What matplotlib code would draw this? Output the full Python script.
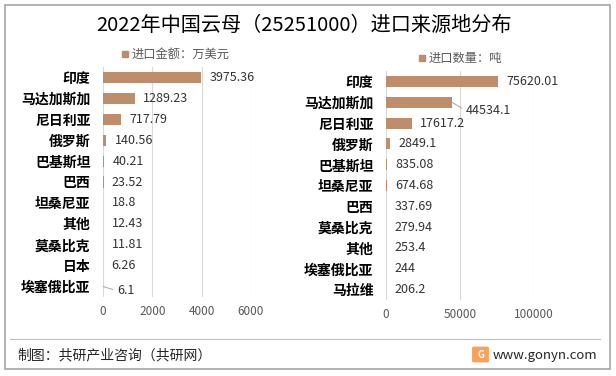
import matplotlib
matplotlib.use("Agg")
import matplotlib.pyplot as plt
from matplotlib.patches import Rectangle, FancyBboxPatch

plt.rcParams['font.family'] = ['Noto Sans CJK SC', 'DejaVu Sans']

# ---- data ----
title = "2022年中国云母（25251000）进口来源地分布"

value_countries = ["印度", "马达加斯加", "尼日利亚", "俄罗斯", "巴基斯坦", "巴西",
                   "坦桑尼亚", "其他", "莫桑比克", "日本", "埃塞俄比亚"]
value_amounts = [3975.36, 1289.23, 717.79, 140.56, 40.21, 23.52,
                 18.8, 12.43, 11.81, 6.26, 6.1]
value_labels = ["3975.36", "1289.23", "717.79", "140.56", "40.21", "23.52",
                "18.8", "12.43", "11.81", "6.26", "6.1"]

qty_countries = ["印度", "马达加斯加", "尼日利亚", "俄罗斯", "巴基斯坦", "坦桑尼亚",
                 "巴西", "莫桑比克", "其他", "埃塞俄比亚", "马拉维"]
qty_amounts = [75620.01, 44534.1, 17617.2, 2849.1, 835.08, 674.68,
               337.69, 279.94, 253.4, 244, 206.2]
qty_labels = ["75620.01", "44534.1", "17617.2", "2849.1", "835.08", "674.68",
              "337.69", "279.94", "253.4", "244", "206.2"]

value_legend = "进口金额：万美元"
qty_legend = "进口数量：吨"
value_ticks = [0, 2000, 4000, 6000]
qty_ticks = [0, 50000, 100000]

bar_color = "#BE8E6C"
grid_color = "#D9D9D9"
label_color = "#333333"

W, H = 616, 376
fig = plt.figure(figsize=(W / 100, H / 100), dpi=100)


def fx(px):
    return px / W


def fy(py):
    return 1 - py / H


def draw_panel(rect, countries, amounts, labels, ticks, xmax, leader):
    ax = fig.add_axes(rect)
    n = len(countries)
    ypos = list(range(n))
    ax.barh(ypos, amounts, height=0.53, color=bar_color, zorder=3)
    ax.set_ylim(n - 0.5, -0.5)
    ax.set_xlim(0, xmax)
    ax.set_yticks(ypos)
    ax.set_yticklabels(countries, fontsize=10, fontweight='bold', color='black')
    ax.set_xticks(ticks)
    ax.set_xticklabels([str(t) for t in ticks], fontsize=8.5, color='#595959')
    ax.tick_params(axis='both', length=0)
    ax.tick_params(axis='y', pad=9)
    ax.tick_params(axis='x', pad=6)
    for s in ax.spines.values():
        s.set_visible(False)
    ax.grid(axis='x', color=grid_color, linewidth=0.8, zorder=0)
    ax.set_axisbelow(True)
    for i, (v, lab) in enumerate(zip(amounts, labels)):
        if i in leader:
            # label pushed aside, joined to its bar by a thin leader line
            dx, dy = leader[i]
            ax.annotate(lab, xy=(v, i), xytext=(dx, dy), textcoords='offset points',
                        ha='left', va='center', fontsize=9, color=label_color,
                        annotation_clip=False,
                        arrowprops=dict(arrowstyle='-', color='#A6A6A6', lw=0.7,
                                        shrinkA=1, shrinkB=0, relpos=(0, 0.5)))
        else:
            ax.annotate(lab, xy=(v, i), xytext=(6, 0), textcoords='offset points',
                        ha='left', va='center', fontsize=9, color=label_color,
                        annotation_clip=False)
    return ax


draw_panel([fx(103), fy(297), fx(251) - fx(103), fy(67) - fy(297)],
           value_countries, value_amounts, value_labels, value_ticks, 6000,
           {10: (10, -3)})
draw_panel([fx(386), fy(300), fx(534) - fx(386), fy(71) - fy(300)],
           qty_countries, qty_amounts, qty_labels, qty_ticks, 100000,
           {1: (10, -6)})

# title
fig.text(fx(304), fy(25), title, ha='center', va='center', fontsize=14.5, color='black')

# legends
for mx, my, txt in [(125, 54, value_legend), (422, 58, qty_legend)]:
    fig.patches.append(Rectangle((fx(mx - 3), fy(my + 3)), fx(6), 6 / H,
                                 transform=fig.transFigure, color=bar_color))
    fig.text(fx(mx + 7), fy(my), txt, ha='left', va='center', fontsize=8.8,
             color='#595959')

# frame and footer
fig.patches.append(Rectangle((fx(5), fy(369)), fx(605), (369 - 5) / H,
                             transform=fig.transFigure, fill=False,
                             edgecolor='#A6A6A6', lw=1.2))
fig.add_artist(plt.Line2D([fx(10), fx(600)], [fy(339), fy(339)],
                          color='#BFBFBF', lw=0.8))
fig.text(fx(17), fy(355), "制图：共研产业咨询（共研网）", ha='left', va='center',
         fontsize=10, color='#262626')
fig.patches.append(FancyBboxPatch((fx(474), fy(361)), fx(13), 13 / H,
                                  boxstyle='round,pad=0.002',
                                  transform=fig.transFigure,
                                  color='#F5A25D'))
fig.text(fx(480.5), fy(354.5), "G", ha='center', va='center', fontsize=7,
         color='white', fontweight='bold')
fig.text(fx(493), fy(355), "www.gonyn.com", ha='left', va='center',
         fontsize=9.5, color='#262626')

fig.savefig("out.png", dpi=100)
